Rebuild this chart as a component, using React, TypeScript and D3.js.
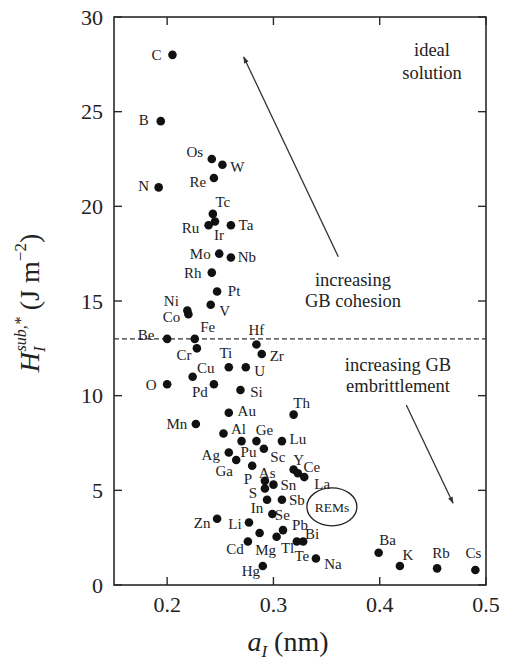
import React from 'react';
import * as d3 from 'd3';

const elements = [
  "C", "B", "Os", "W", "Re", "N", "Tc", "Ir", "Ru", "Ta",
  "Mo", "Nb", "Rh", "Pt", "V", "Ni", "Co", "Be", "Fe", "Hf",
  "Cr", "Zr", "Ti", "U", "Cu", "O", "Pd", "Si", "Th", "Au",
  "Mn", "Al", "Pu", "Ge", "Lu", "Ag", "Sc", "Ga", "As", "Y",
  "Ce", "La", "P", "Sn", "S", "In", "Sb", "Se", "Pb", "Tl",
  "Bi", "Te", "Na", "Li", "Zn", "Mg", "Cd", "Hg", "Ba", "K",
  "Rb", "Cs"
];

const aValues = [
  0.205, 0.194, 0.242, 0.252, 0.244, 0.192, 0.243, 0.245, 0.239, 0.260,
  0.249, 0.260, 0.242, 0.247, 0.241, 0.219, 0.220, 0.200, 0.226, 0.284,
  0.228, 0.289, 0.258, 0.274, 0.224, 0.200, 0.244, 0.269, 0.319, 0.258,
  0.227, 0.253, 0.270, 0.284, 0.308, 0.258, 0.291, 0.265, 0.280, 0.319,
  0.323, 0.329, 0.292, 0.300, 0.292, 0.294, 0.308, 0.299, 0.309, 0.303,
  0.328, 0.322, 0.340, 0.277, 0.247, 0.287, 0.276, 0.290, 0.399, 0.419,
  0.454, 0.490
];

const hValues = [
  28.0, 24.5, 22.5, 22.2, 21.5, 21.0, 19.6, 19.2, 19.0, 19.0,
  17.5, 17.3, 16.5, 15.5, 14.8, 14.5, 14.3, 13.0, 13.0, 12.7,
  12.5, 12.2, 11.5, 11.5, 11.0, 10.6, 10.6, 10.3, 9.0, 9.1,
  8.5, 8.0, 7.6, 7.6, 7.6, 7.0, 7.2, 6.6, 6.3, 6.1,
  5.9, 5.7, 5.5, 5.3, 5.1, 4.5, 4.5, 3.75, 2.9, 2.55,
  2.3, 2.3, 1.4, 3.3, 3.5, 2.75, 2.3, 1.0, 1.7, 1.0,
  0.88, 0.79
];

// label placement (layout only): offset of label centre from its point, px
const labelOffsets: [number, number][] = [
  [-16, 0], [-17, -1], [-17, -7], [15, 2], [-16, 4], [-15, -1], [10, -12], [4, 14], [-18, 3], [15, 0],
  [-19, 0], [16, 0], [-19, 0], [17, -1], [14, 6], [-16, -9], [-17, 3], [-21, -4], [13, -12], [0, -15],
  [-13, 7], [15, 2], [-3, -14], [14, 4], [13, -9], [-16, 1], [-14, 8], [16, 2], [8, -12], [18, -2],
  [-19, 0], [15, -5], [7, 11], [8, -11], [16, -2], [-18, 3], [14, 8], [-12, 11], [15, 7], [5, -10],
  [14, -6], [18, 7], [-17, -2], [15, 0], [-12, 5], [-10, 8], [15, 0], [10, 1], [17, -5], [11, 11],
  [9, -7], [5, 15], [17, 6], [-14, 1], [-15, 4], [6, 17], [-13, 8], [-12, 5], [9, -13], [8, -11],
  [4, -15], [-2, -17]
];

const xTicks = [0.2, 0.3, 0.4, 0.5];
const yTicks = [0, 5, 10, 15, 20, 25, 30];
const threshold = 13;

const remsCenter = [0.355, 4.13];
const arrowCohesion = [[0.361, 17.34], [0.272, 27.89]];
const arrowEmbrittle = [[0.425, 9.51], [0.469, 4.32]];

const FONT = "'Liberation Serif', 'Times New Roman', Times, serif";

export default function App() {
  const W = 510, H = 664;
  const L = 114, R = 486, T = 17, B = 585;
  const x = d3.scaleLinear().domain([0.15, 0.5]).range([L, R]);
  const y = d3.scaleLinear().domain([0, 30]).range([B, T]);
  const tk = 8;
  const stroke = '#2a2a2a';

  return (
    <svg width={W} height={H} viewBox={`0 0 ${W} ${H}`}
      style={{ position: 'absolute', left: 0, top: 0, display: 'block', background: '#fff' }}
      fontFamily={FONT}>
      <defs>
        <marker id="ah" viewBox="0 0 10 10" refX="9" refY="5" markerWidth="7" markerHeight="7"
          orient="auto" markerUnits="userSpaceOnUse">
          <path d="M0,1.5 L10,5 L0,8.5 Z" fill="#333" />
        </marker>
      </defs>

      {/* frame */}
      <rect x={L} y={T} width={R - L} height={B - T} fill="none" stroke={stroke} strokeWidth={1.6} />

      {/* ticks */}
      {xTicks.map((t) => (
        <g key={'xt' + t}>
          <line x1={x(t)} x2={x(t)} y1={B} y2={B - tk} stroke={stroke} strokeWidth={1.4} />
          <line x1={x(t)} x2={x(t)} y1={T} y2={T + tk} stroke={stroke} strokeWidth={1.4} />
          <text x={x(t)} y={B + 27} textAnchor="middle" fontSize={22} fill="#222">{t.toFixed(1)}</text>
        </g>
      ))}
      {yTicks.map((t) => (
        <g key={'yt' + t}>
          <line x1={L} x2={L + tk} y1={y(t)} y2={y(t)} stroke={stroke} strokeWidth={1.4} />
          <line x1={R} x2={R - tk} y1={y(t)} y2={y(t)} stroke={stroke} strokeWidth={1.4} />
          <text x={103} y={y(t) + 7.5} textAnchor="end" fontSize={22} fill="#222">{t}</text>
        </g>
      ))}

      {/* threshold */}
      <line x1={L} x2={R} y1={y(threshold)} y2={y(threshold)} stroke="#333" strokeWidth={1.2}
        strokeDasharray="5,3" />

      {/* arrows */}
      <line x1={x(arrowCohesion[0][0])} y1={y(arrowCohesion[0][1])}
        x2={x(arrowCohesion[1][0])} y2={y(arrowCohesion[1][1])}
        stroke="#333" strokeWidth={1.3} markerEnd="url(#ah)" />
      <line x1={x(arrowEmbrittle[0][0])} y1={y(arrowEmbrittle[0][1])}
        x2={x(arrowEmbrittle[1][0])} y2={y(arrowEmbrittle[1][1])}
        stroke="#333" strokeWidth={1.3} markerEnd="url(#ah)" />

      {/* annotations */}
      <g fontSize={18.5} fill="#222" textAnchor="middle">
        <text x={432} y={56}>ideal</text>
        <text x={432} y={79}>solution</text>
        <text x={353} y={286}>increasing</text>
        <text x={353} y={307}>GB cohesion</text>
        <text x={398} y={371}>increasing GB</text>
        <text x={398} y={392}>embrittlement</text>
      </g>

      {/* REMs ellipse */}
      <ellipse cx={x(remsCenter[0])} cy={y(remsCenter[1])} rx={25} ry={19}
        fill="none" stroke="#222" strokeWidth={1.3} />
      <text x={x(remsCenter[0])} y={y(remsCenter[1]) + 5} textAnchor="middle" fontSize={13.5}
        fill="#222">REMs</text>

      {/* points */}
      {elements.map((el, i) => (
        <circle key={'p' + el} cx={x(aValues[i])} cy={y(hValues[i])} r={4.3} fill="#111" />
      ))}
      {elements.map((el, i) => (
        <text key={'l' + el} x={x(aValues[i]) + labelOffsets[i][0]}
          y={y(hValues[i]) + labelOffsets[i][1] + 5} textAnchor="middle" fontSize={15}
          fill="#222">{el}</text>
      ))}

      {/* x title */}
      <text x={288} y={651} textAnchor="middle" fontSize={28} fill="#222">
        <tspan fontStyle="italic">a</tspan>
        <tspan fontStyle="italic" fontSize={17} dy={6}>I</tspan>
        <tspan dy={-6}> (nm)</tspan>
      </text>

      {/* y title */}
      <text transform={`translate(39,303) rotate(-90)`} textAnchor="middle" fontSize={28} fill="#222">
        <tspan fontStyle="italic">H</tspan>
        <tspan fontStyle="italic" fontSize={17} dy={6}>I</tspan>
        <tspan fontStyle="italic" fontSize={16} dx={-5} dy={-19}>sub,*</tspan>
        <tspan dy={13}> (J m</tspan>
        <tspan fontSize={17} dy={-13}>−2</tspan>
        <tspan dy={13}>)</tspan>
      </text>
    </svg>
  );
}
